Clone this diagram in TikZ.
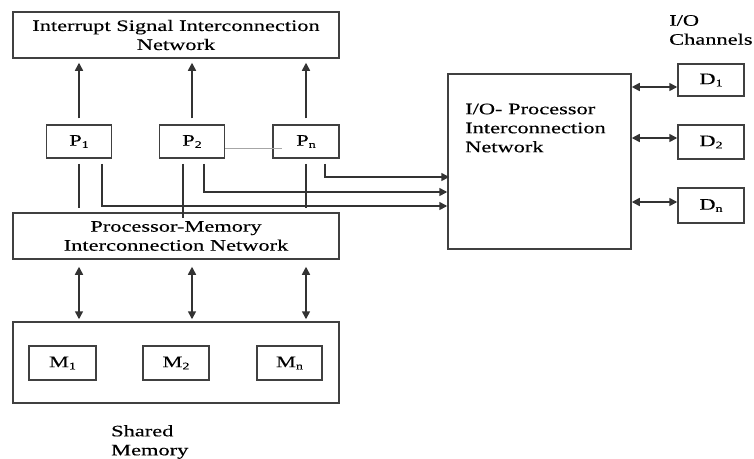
\documentclass[tikz,border=0pt]{standalone}
\usepackage{fontspec}
\setmainfont[FakeStretch=1.4,FakeBold=0.25]{Liberation Serif}
\usetikzlibrary{arrows.meta}
\newcommand\sbx[1]{\raisebox{-0.3ex}{\fontsize{10}{10}\selectfont #1}}
\begin{document}
\begin{tikzpicture}[x=1pt,y=-1pt,
  box/.style={draw=black!75, line width=1.5pt, rectangle, inner sep=0pt},
  lbl/.style={font=\fontsize{16}{19}\selectfont, align=center, text=black},
  ln/.style={draw=black!80, line width=1.6pt},
  arr/.style={ln, -{Triangle[length=8pt,width=8pt]}},
  dbl/.style={ln, {Triangle[length=8pt,width=8pt]}-{Triangle[length=8pt,width=8pt]}}]
\useasboundingbox[fill=white] (0,0) rectangle (754,458);

% left column boxes
\node[box, lbl, minimum width=326pt, minimum height=46pt] (isin) at (176,35) {Interrupt Signal Interconnection\\Network};
\node[box, lbl, minimum width=65pt, minimum height=33pt] (P1) at (79,141.5) {P\sbx{1}};
\node[box, lbl, minimum width=65pt, minimum height=33pt] (P2) at (192,141.5) {P\sbx{2}};
\node[box, lbl, minimum width=66pt, minimum height=33pt] (Pn) at (306,141.5) {P\sbx{n}};
\node[box, lbl, minimum width=326pt, minimum height=46pt] (pmin) at (176,236) {Processor-Memory\\Interconnection Network};
\node[box, minimum width=326pt, minimum height=81pt] (smem) at (176,362.5) {};
\node[box, lbl, minimum width=67pt, minimum height=34pt] (M1) at (62.5,363) {M\sbx{1}};
\node[box, lbl, minimum width=66pt, minimum height=34pt] (M2) at (176,363) {M\sbx{2}};
\node[box, lbl, minimum width=65pt, minimum height=34pt] (Mn) at (289.5,363) {M\sbx{n}};
\node[lbl, align=left, inner sep=0pt, anchor=west] (shm) at (111,442) {Shared\\Memory};

% right side
\node[box, minimum width=183pt, minimum height=175pt] (iopin) at (539.5,161.5) {};
\node[lbl, align=left, inner sep=0pt, anchor=west] (iotxt) at (465,128) {I/O- Processor\\Interconnection\\Network};
\node[box, lbl, minimum width=66pt, minimum height=32pt] (D1) at (711,80) {D\sbx{1}};
\node[box, lbl, minimum width=66pt, minimum height=34pt] (D2) at (711,142) {D\sbx{2}};
\node[box, lbl, minimum width=66pt, minimum height=35pt] (Dn) at (711,205.5) {D\sbx{n}};
\node[lbl, align=left, inner sep=0pt, anchor=west] (ioch) at (669,30) {I/O\\Channels};

% arrows up to interrupt network
\foreach \p in {P1,P2,Pn}
  \draw[arr, shorten <=6pt, shorten >=4pt] (\p.north) -- (\p.north |- isin.south);

% processor to processor-memory network
\draw[ln, shorten <=5pt, shorten >=4pt] (P1.south) -- (P1.south |- pmin.north);
\draw[ln, shorten <=5pt, shorten >=-6pt] ([xshift=-9pt]P2.south) -- ([xshift=-9pt]P2.south |- pmin.north);
\draw[ln, shorten <=5pt, shorten >=4pt] (Pn.south) -- (Pn.south |- pmin.north);

% processor to I/O network
\draw[arr] ([xshift=23pt,yshift=-5pt]P1.south) |- ([yshift=-44.5pt]iopin.west);
\draw[arr] ([xshift=12pt,yshift=-5pt]P2.south) |- ([yshift=-30.5pt]iopin.west);
\draw[arr] ([xshift=19pt,yshift=-5pt]Pn.south) |- ([yshift=-15.5pt,xshift=2pt]iopin.west);

% thin link P2 .. Pn
\draw[draw=black!35, line width=0.8pt] ([yshift=-6.5pt]P2.east) -- ([yshift=-6.5pt,xshift=10pt]Pn.west);

% memory arrows
\foreach \p in {P1,P2,Pn}
  \draw[dbl, shorten <=7pt, shorten >=2pt] (\p.south |- pmin.south) -- (\p.south |- smem.north);

% I/O channel arrows
\draw[dbl] ([yshift=-7pt]D1.west -| iopin.east) -- ([yshift=-7pt]D1.west);
\draw[dbl] ([yshift=4pt]D2.west -| iopin.east) -- ([yshift=4pt]D2.west);
\draw[dbl] ([yshift=3.5pt]Dn.west -| iopin.east) -- ([yshift=3.5pt]Dn.west);
\end{tikzpicture}
\end{document}
